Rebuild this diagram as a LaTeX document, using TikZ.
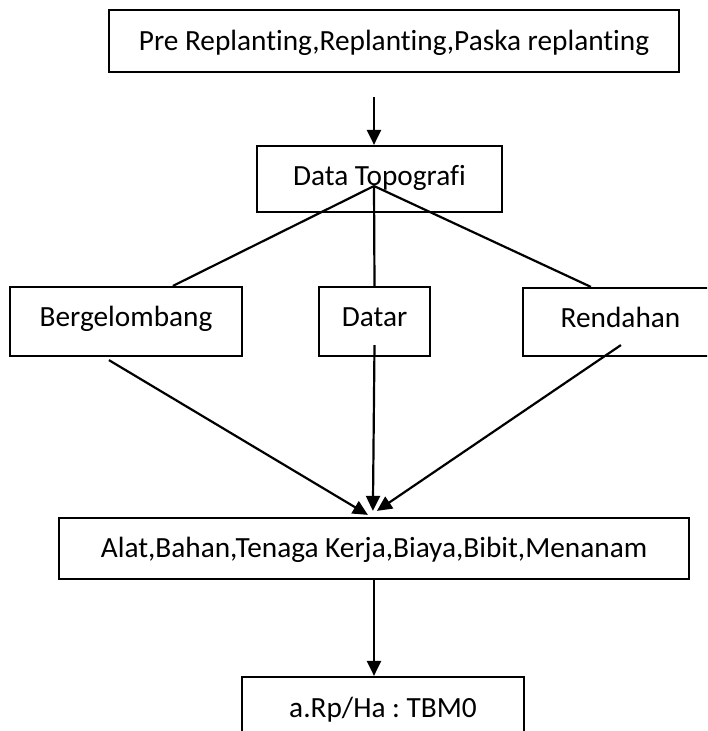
\documentclass[tikz,border=0pt]{standalone}
\usepackage{fontspec}
\setmainfont{Carlito}[Ligatures={NoCommon}]
\usetikzlibrary{arrows.meta}
\begin{document}
\frenchspacing
\begin{tikzpicture}[x=1pt,y=-1pt,
  box/.style={draw, line width=2.2pt, inner sep=0pt, text height=25pt, text depth=6.1pt, font=\fontsize{29.3}{34}\selectfont},
  midbox/.style={box, text height=17pt, text depth=6.2pt},
  conn/.style={line width=2.2pt},
  arr/.style={conn, -{Triangle[length=15pt,width=14pt]}}]
\clip (0,0) rectangle (707,731);
\fill[white] (0,0) rectangle (707,731);
\node[box, minimum width=570pt, minimum height=62pt] (top) at (394,41) {Pre Replanting,Replanting,Paska replanting};
\node[box, minimum width=245pt, minimum height=66pt, text height=20pt, text depth=6.2pt] (topo) at (379.5,179) {Data Topografi};
\node[midbox, minimum width=232pt, minimum height=69pt] (berg) at (126,321.5) {Bergelombang};
\node[midbox, minimum width=111pt, minimum height=69pt] (datar) at (374.5,321.5) {Datar};
\node[midbox, minimum width=195pt, minimum height=68pt] (rend) at (620.5,322) {Rendahan};
\node[box, minimum width=630pt, minimum height=61pt] (alat) at (374,548.5) {Alat,Bahan,Tenaga Kerja,Biaya,Bibit,Menanam};
\node[box, minimum width=282pt, minimum height=63pt] (rp) at (383,708.5) {a.Rp/Ha : TBM0};
\coordinate (conv) at (374,186);
\draw[arr] ([shift={(-20,24)}]top.south) -- ([shift={(-5.5,0)}]topo.north);
\draw[conn] (conv) -- ([shift={(164,0)}]berg.north west);
\draw[conn] (conv) -- (datar.north);
\draw[conn] (conv) -- ([shift={(69,0)}]rend.north west);
\draw[arr] ([shift={(100,3)}]berg.south west) -- ([shift={(310,-2)}]alat.north west);
\draw[arr] ([shift={(0,-12)}]datar.south) -- ([shift={(315,-6)}]alat.north west);
\draw[arr] ([shift={(99,-12)}]rend.south west) -- ([shift={(319,-6)}]alat.north west);
\draw[arr] (alat.south) -- (alat.south |- rp.north);
\end{tikzpicture}
\end{document}
